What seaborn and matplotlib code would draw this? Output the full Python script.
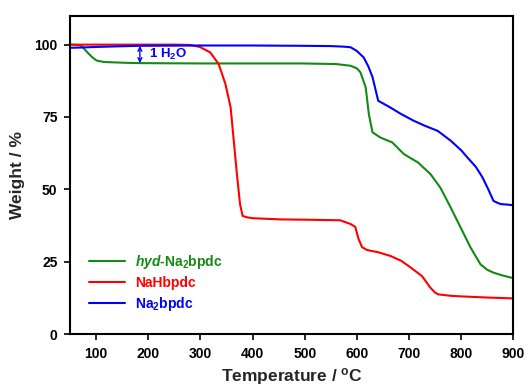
import matplotlib
matplotlib.use("Agg")
import matplotlib.pyplot as plt
import seaborn as sns
import pandas as pd

# ---- data ----
hyd_T = [50, 70, 75, 85, 93, 101, 115, 160, 190, 300, 400, 492, 560, 588, 600, 607, 617, 623, 630, 645, 668, 690, 717,
         741, 760, 780, 799, 818, 837, 850, 862, 880, 900]
hyd_W = [100, 99.8, 99.0, 97.0, 95.6, 94.5, 94.0, 93.7, 93.6, 93.5, 93.5, 93.5, 93.3, 92.7, 91.8, 90.4, 85.2, 76.0, 69.7,
         67.9, 66.2, 62.2, 59.3, 55.3, 50.6, 43.7, 36.8, 29.9, 24.1, 22.2, 21.2, 20.2, 19.3]

nah_T = [50, 150, 250, 280, 299, 319, 335, 348, 358, 364, 370, 376, 381, 390, 402, 454, 500, 568, 588, 597, 603, 610,
         620, 640, 664, 685, 703, 725, 741, 750, 756, 780, 800, 850, 900]
nah_W = [100, 100, 100, 99.9, 99.2, 97.3, 93.3, 86.4, 78.3, 66.8, 55.3, 44.9, 40.8, 40.3, 40.0, 39.6, 39.5, 39.3, 38.0,
         37.0, 33.0, 30.0, 29.0, 28.3, 27.0, 25.3, 23.0, 20.0, 16.0, 14.3, 13.7, 13.2, 13.0, 12.6, 12.3]

na2_T = [50, 70, 100, 140, 184, 300, 400, 492, 550, 575, 588, 600, 613, 622, 630, 641, 664, 685, 709, 730, 755, 780,
         800, 812, 828, 841, 852, 862, 870, 876, 890, 900]
na2_W = [98.9, 99.0, 99.2, 99.4, 99.6, 99.7, 99.7, 99.6, 99.5, 99.3, 99.1, 97.8, 95.6, 92.5, 88.8, 80.6, 78.3, 76.0, 73.7,
         72.0, 70.2, 66.8, 63.5, 61.0, 57.8, 54.1, 50.0, 46.0, 45.3, 44.9, 44.7, 44.5]

series_names = [r"$\mathit{hyd}$-Na$_\mathrm{2}$bpdc", "NaHbpdc", r"Na$_\mathrm{2}$bpdc"]
series_colors = ["#138a13", "#ff0000", "#0000ff"]
x_ticks = [100, 200, 300, 400, 500, 600, 700, 800, 900]
y_ticks = [0, 25, 50, 75, 100]

df = pd.concat([
    pd.DataFrame({"T": hyd_T, "W": hyd_W, "s": series_names[0]}),
    pd.DataFrame({"T": nah_T, "W": nah_W, "s": series_names[1]}),
    pd.DataFrame({"T": na2_T, "W": na2_W, "s": series_names[2]}),
], ignore_index=True)

sns.set_theme(style="ticks")
plt.rcParams["font.family"] = ["Liberation Sans", "DejaVu Sans"]
plt.rcParams["font.weight"] = "bold"
plt.rcParams["mathtext.fontset"] = "custom"
plt.rcParams["mathtext.rm"] = "Liberation Sans:bold"
plt.rcParams["mathtext.bf"] = "Liberation Sans:bold"
plt.rcParams["mathtext.it"] = "Liberation Sans:bold:italic"

fig = plt.figure(figsize=(5.28, 3.89), dpi=100)
ax = fig.add_axes([70 / 528, 1 - 334 / 389, (513.3 - 70) / 528, (334 - 15.7) / 389])

sns.lineplot(data=df, x="T", y="W", hue="s", palette=dict(zip(series_names, series_colors)),
             sort=False, estimator=None, linewidth=1.5, ax=ax)

ax.set_xlim(50, 900)
ax.set_ylim(0, 110)
ax.set_xticks(x_ticks)
ax.set_yticks(y_ticks)
ax.tick_params(axis="both", direction="out", length=4, width=1.2, labelsize=10, colors="black", pad=5)
for lab in ax.get_xticklabels() + ax.get_yticklabels():
    lab.set_fontweight("bold")
for sp in ax.spines.values():
    sp.set_linewidth(1.5)
    sp.set_color("black")
    sp.set_visible(True)

ax.set_xlabel(r"Temperature / $^\mathrm{o}$C", fontsize=12.5, fontweight="bold", labelpad=4)
ax.set_ylabel("Weight / %", fontsize=12.5, fontweight="bold", labelpad=7)

# annotation: 1 H2O
ax.annotate("", xy=(184, 93.6), xytext=(184, 99.6),
            arrowprops=dict(arrowstyle="<->", color="#0000ff", lw=1.0, shrinkA=0, shrinkB=0,
                            mutation_scale=7))
ax.text(202, 96.7, r"1 H$_\mathrm{2}$O", color="#0000ff", fontsize=9.5, fontweight="bold", va="center", ha="left")

leg = ax.legend(loc="upper left", bbox_to_anchor=(0.03, 0.272), frameon=False, fontsize=10,
                handlelength=2.6, handletextpad=0.75, labelspacing=0.35, borderaxespad=0)
for txt, c in zip(leg.get_texts(), series_colors):
    txt.set_color(c)
    txt.set_fontweight("bold")

fig.savefig("out.png", dpi=100)
